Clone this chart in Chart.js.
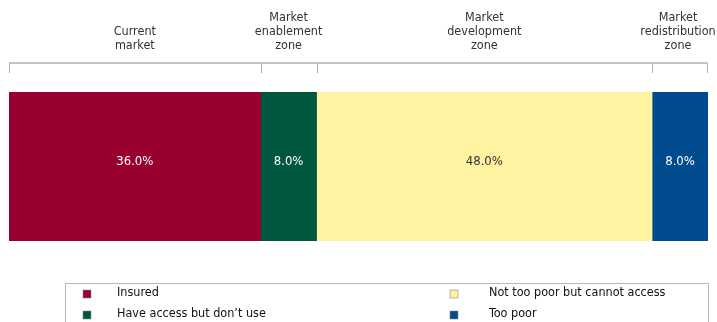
<!DOCTYPE html>
<html lang="en">
<head>
  <meta charset="utf-8">
  <title>Market zones</title>
  <script src="https://cdn.jsdelivr.net/npm/chart.js@4/dist/chart.umd.min.js"></script>
  <style>
    body { margin: 0; background: #fff; }
  </style>
</head>
<body>
<canvas id="bar" width="717" height="322"></canvas>

<script>
// data
var seriesNames = ["Insured", "Have access but don\u2019t use", "Not too poor but cannot access", "Too poor"];
var shares = [36.0, 8.0, 48.0, 8.0];
var colors = ["#990030", "#00573f", "#fff2a1", "#004b8d"];
var labelColors = ["#ffffff", "#ffffff", "#333333", "#ffffff"];
var zoneLabels = [["Current", "market"], ["Market", "enablement", "zone"], ["Market", "development", "zone"], ["Market", "redistribution", "zone"]];

var FONT = '"DejaVu Sans Condensed", "Liberation Sans Narrow", "Liberation Sans", sans-serif';

var datasets = [];
for (var i = 0; i < shares.length; i++) {
  datasets.push({
    label: seriesNames[i],
    data: [shares[i]],
    backgroundColor: colors[i],
    borderWidth: 0,
    barPercentage: 1,
    categoryPercentage: 1
  });
}

var extras = {
  id: 'extras',
  afterDatasetsDraw: function(chart) {
    var ctx = chart.ctx;
    var xs = chart.scales.x;
    var area = chart.chartArea;
    ctx.save();

    // value labels inside segments
    ctx.font = '13px ' + FONT;
    ctx.textAlign = 'center';
    ctx.textBaseline = 'middle';
    var cum = 0;
    var edges = [xs.getPixelForValue(0)];
    for (var i = 0; i < shares.length; i++) {
      var x0 = xs.getPixelForValue(cum);
      cum += shares[i];
      var x1 = xs.getPixelForValue(cum);
      edges.push(x1);
      ctx.fillStyle = labelColors[i];
      ctx.fillText(shares[i].toFixed(1) + '%', (x0 + x1) / 2, area.top + 70);
    }

    // bracket above the bar
    var by = 63;
    ctx.strokeStyle = '#b0b0b0';
    ctx.lineWidth = 1.5;
    ctx.beginPath();
    ctx.moveTo(edges[0] + 0.5, by);
    ctx.lineTo(edges[edges.length - 1] - 0.5, by);
    ctx.stroke();
    ctx.beginPath();
    for (var k = 0; k < edges.length; k++) {
      var ex = Math.round(edges[k]) + (k == 0 ? 0.5 : (k == edges.length - 1 ? -0.5 : 0.5));
      ctx.moveTo(ex, by);
      ctx.lineTo(ex, by + 10);
    }
    ctx.lineWidth = 1;
    ctx.stroke();

    // zone labels
    ctx.font = '12.5px ' + FONT;
    ctx.fillStyle = '#333';
    for (var z = 0; z < zoneLabels.length; z++) {
      var cx = (edges[z] + edges[z + 1]) / 2;
      if (z == zoneLabels.length - 1) cx -= 2;
      var lines = zoneLabels[z];
      var y0 = 46 - (lines.length - 1) * 14;
      for (var l = 0; l < lines.length; l++) {
        ctx.fillText(lines[l], cx, y0 + l * 14);
      }
    }

    // legend box
    ctx.strokeStyle = '#b8b8b8';
    ctx.lineWidth = 1;
    ctx.strokeRect(65.5, 283.5, 643, 60);
    var cols = [[87, 117], [454, 489]];
    var rows = [293, 314];
    var order = [[0, 0], [0, 1], [1, 0], [1, 1]];
    ctx.textAlign = 'left';
    ctx.font = '12.5px ' + FONT;
    for (var s = 0; s < seriesNames.length; s++) {
      var c = cols[order[s][0]];
      var ry = rows[order[s][1]];
      ctx.fillStyle = colors[s];
      ctx.fillRect(c[0] - 4, ry - 3, 8, 8);
      ctx.strokeStyle = '#888';
      ctx.lineWidth = 0.6;
      ctx.strokeRect(c[0] - 4, ry - 3, 8, 8);
      ctx.fillStyle = '#111';
      ctx.fillText(seriesNames[s], c[1], ry);
    }
    ctx.restore();
  }
};

var chart = new Chart(document.getElementById('bar').getContext('2d'), {
  type: 'bar',
  data: { labels: ['share'], datasets: datasets },
  options: {
    indexAxis: 'y',
    responsive: false,
    animation: false,
    layout: { padding: { left: 9, right: 9, top: 92, bottom: 81 } },
    scales: {
      x: { stacked: true, min: 0, max: 100, display: false },
      y: { stacked: true, display: false }
    },
    plugins: {
      legend: { display: false },
      tooltip: { enabled: false }
    }
  },
  plugins: [extras]
});
</script>
</body>
</html>
